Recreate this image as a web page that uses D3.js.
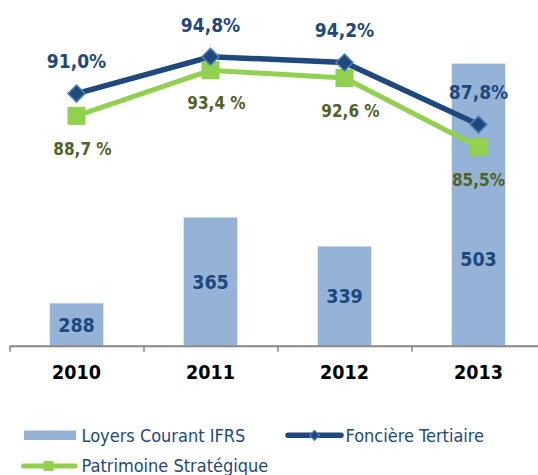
<!DOCTYPE html>
<html><head><meta charset="utf-8">
<script src="https://cdn.jsdelivr.net/npm/d3@7"></script>
<style>
body{margin:0;background:#fff}
svg{display:block}
text{font-family:"DejaVu Sans Condensed","DejaVu Sans",sans-serif;font-stretch:condensed}
</style>
</head><body><svg id="c" width="538" height="475"></svg>
<script>
const years = ["2010","2011","2012","2013"];
const loyers = [288,365,339,503];
const fonciere = [91.0,94.8,94.2,87.8];
const patrimoine = [88.7,93.4,92.6,85.5];
const loyersLabels = ["288","365","339","503"];
const fonciereLabels = ["91,0%","94,8%","94,2%","87,8%"];
const patrimoineLabels = ["88,7 %","93,4 %","92,6 %","85,5%"];
const seriesNames = ["Loyers Courant IFRS","Foncière Tertiaire","Patrimoine Stratégique"];

const C = {bar:"#95b3d7", blue:"#1f497d", blueEdge:"#4f81bd", green:"#92d050", greenText:"#4f6228", axis:"#868686"};

const svg = d3.select("#c");
const L = 9.5, R = 545.5, base = 345.7;

const xCat = d3.scaleBand().domain(years).range([L, R]);
const xBar = d3.scaleBand().domain(years).range([L, R]).paddingInner(0.6).paddingOuter(0.3);
const xTick = d3.scaleLinear().domain([0, years.length]).range([L, R]);
const yBar = d3.scaleLinear().domain([250, 550]).range([base, 11.2]);
const yPct = d3.scaleLinear().domain([65, 100]).range([base, 6.3]);
const cx = d => xCat(d) + xCat.bandwidth()/2;

// bars
svg.append("g").selectAll("rect").data(years).join("rect")
  .attr("x", d => xBar(d)).attr("width", xBar.bandwidth())
  .attr("y", (d,i) => yBar(loyers[i])).attr("height", (d,i) => base - yBar(loyers[i]))
  .attr("fill", C.bar);

// bar labels
svg.append("g").selectAll("text").data(years).join("text")
  .attr("x", d => cx(d))
  .attr("y", (d,i) => Math.max((yBar(loyers[i]) + base)/2, 259))
  .attr("dy", "0.36em").attr("text-anchor","middle")
  .attr("font-size", 19.5).attr("font-weight","bold").attr("fill", C.blue)
  .text((d,i) => loyersLabels[i]);

// axis line + ticks
const axG = svg.append("g").attr("transform", `translate(0,${base})`)
  .call(d3.axisBottom(xTick).tickValues([0,1,2,3]).tickSize(6).tickSizeOuter(0).tickFormat(""));
axG.select(".domain").attr("stroke", C.axis).attr("stroke-width", 2);
axG.selectAll(".tick line").attr("stroke", C.axis).attr("stroke-width", 1.5);

// category labels
const labG = svg.append("g").attr("transform", `translate(0,${base})`)
  .call(d3.axisBottom(xCat).tickSize(0).tickPadding(0));
labG.select(".domain").remove();
labG.selectAll(".tick text").attr("y", 26.5).attr("dy","0.36em")
  .attr("font-size", 19.5).attr("font-weight","bold").attr("fill","#000")
  .attr("font-family", '"DejaVu Sans Condensed","DejaVu Sans",sans-serif');

// lines
const lineF = d3.line().x((d,i) => cx(years[i])).y(d => yPct(d));
svg.append("path").datum(patrimoine).attr("d", lineF)
  .attr("fill","none").attr("stroke", C.green).attr("stroke-width", 5);
svg.append("path").datum(fonciere).attr("d", lineF)
  .attr("fill","none").attr("stroke", C.blue).attr("stroke-width", 5.5);

// markers
svg.append("g").selectAll("rect").data(patrimoine).join("rect")
  .attr("x", (d,i) => cx(years[i]) - 9).attr("y", d => yPct(d) - 9)
  .attr("width", 18).attr("height", 18).attr("fill", C.green);
svg.append("g").selectAll("path").data(fonciere).join("path")
  .attr("d", "M0,-8.5L8.5,0L0,8.5L-8.5,0Z")
  .attr("transform", (d,i) => `translate(${cx(years[i])},${yPct(d)})`)
  .attr("fill", C.blue).attr("stroke", C.blueEdge).attr("stroke-width", 1.5);

// line labels
svg.append("g").selectAll("text").data(fonciere).join("text")
  .attr("x", (d,i) => cx(years[i])).attr("y", d => yPct(d) - 32)
  .attr("dy","0.36em").attr("text-anchor","middle")
  .attr("font-size", 19).attr("font-weight","bold").attr("fill", C.blue)
  .text((d,i) => fonciereLabels[i]);
svg.append("g").selectAll("text").data(patrimoine).join("text")
  .attr("x", (d,i) => cx(years[i]) + (patrimoineLabels[i].includes(" ") ? 6 : 0))
  .attr("y", d => yPct(d) + 33)
  .attr("dy","0.36em").attr("text-anchor","middle")
  .attr("font-size", 17).attr("font-weight","bold").attr("fill", C.greenText)
  .text((d,i) => patrimoineLabels[i]);

// legend
const lg = svg.append("g");
lg.append("rect").attr("x", 24).attr("y", 430.5).attr("width", 52).attr("height", 9.5).attr("fill", C.bar);
lg.append("text").attr("x", 81.5).attr("y", 435.3).attr("dy","0.36em")
  .attr("font-size", 18).attr("fill", C.blue).text(seriesNames[0]);

lg.append("line").attr("x1", 288).attr("x2", 341).attr("y1", 435.3).attr("y2", 435.3)
  .attr("stroke", C.blue).attr("stroke-width", 5.5).attr("stroke-linecap","round");
lg.append("path").attr("d","M0,-5L5,0L0,5L-5,0Z").attr("transform","translate(314.5,435.3)")
  .attr("fill", C.blue).attr("stroke", C.blueEdge).attr("stroke-width", 1.2);
lg.append("text").attr("x", 345.5).attr("y", 435.3).attr("dy","0.36em")
  .attr("font-size", 18).attr("fill", C.blue).text(seriesNames[1]);

lg.append("line").attr("x1", 23.5).attr("x2", 75).attr("y1", 466).attr("y2", 466)
  .attr("stroke", C.green).attr("stroke-width", 5).attr("stroke-linecap","round");
lg.append("rect").attr("x", 43.5).attr("y", 461).attr("width", 10).attr("height", 10).attr("fill", C.green);
lg.append("text").attr("x", 81.5).attr("y", 466).attr("dy","0.36em")
  .attr("font-size", 18).attr("fill", C.blue).text(seriesNames[2]);
</script>
</body></html>
